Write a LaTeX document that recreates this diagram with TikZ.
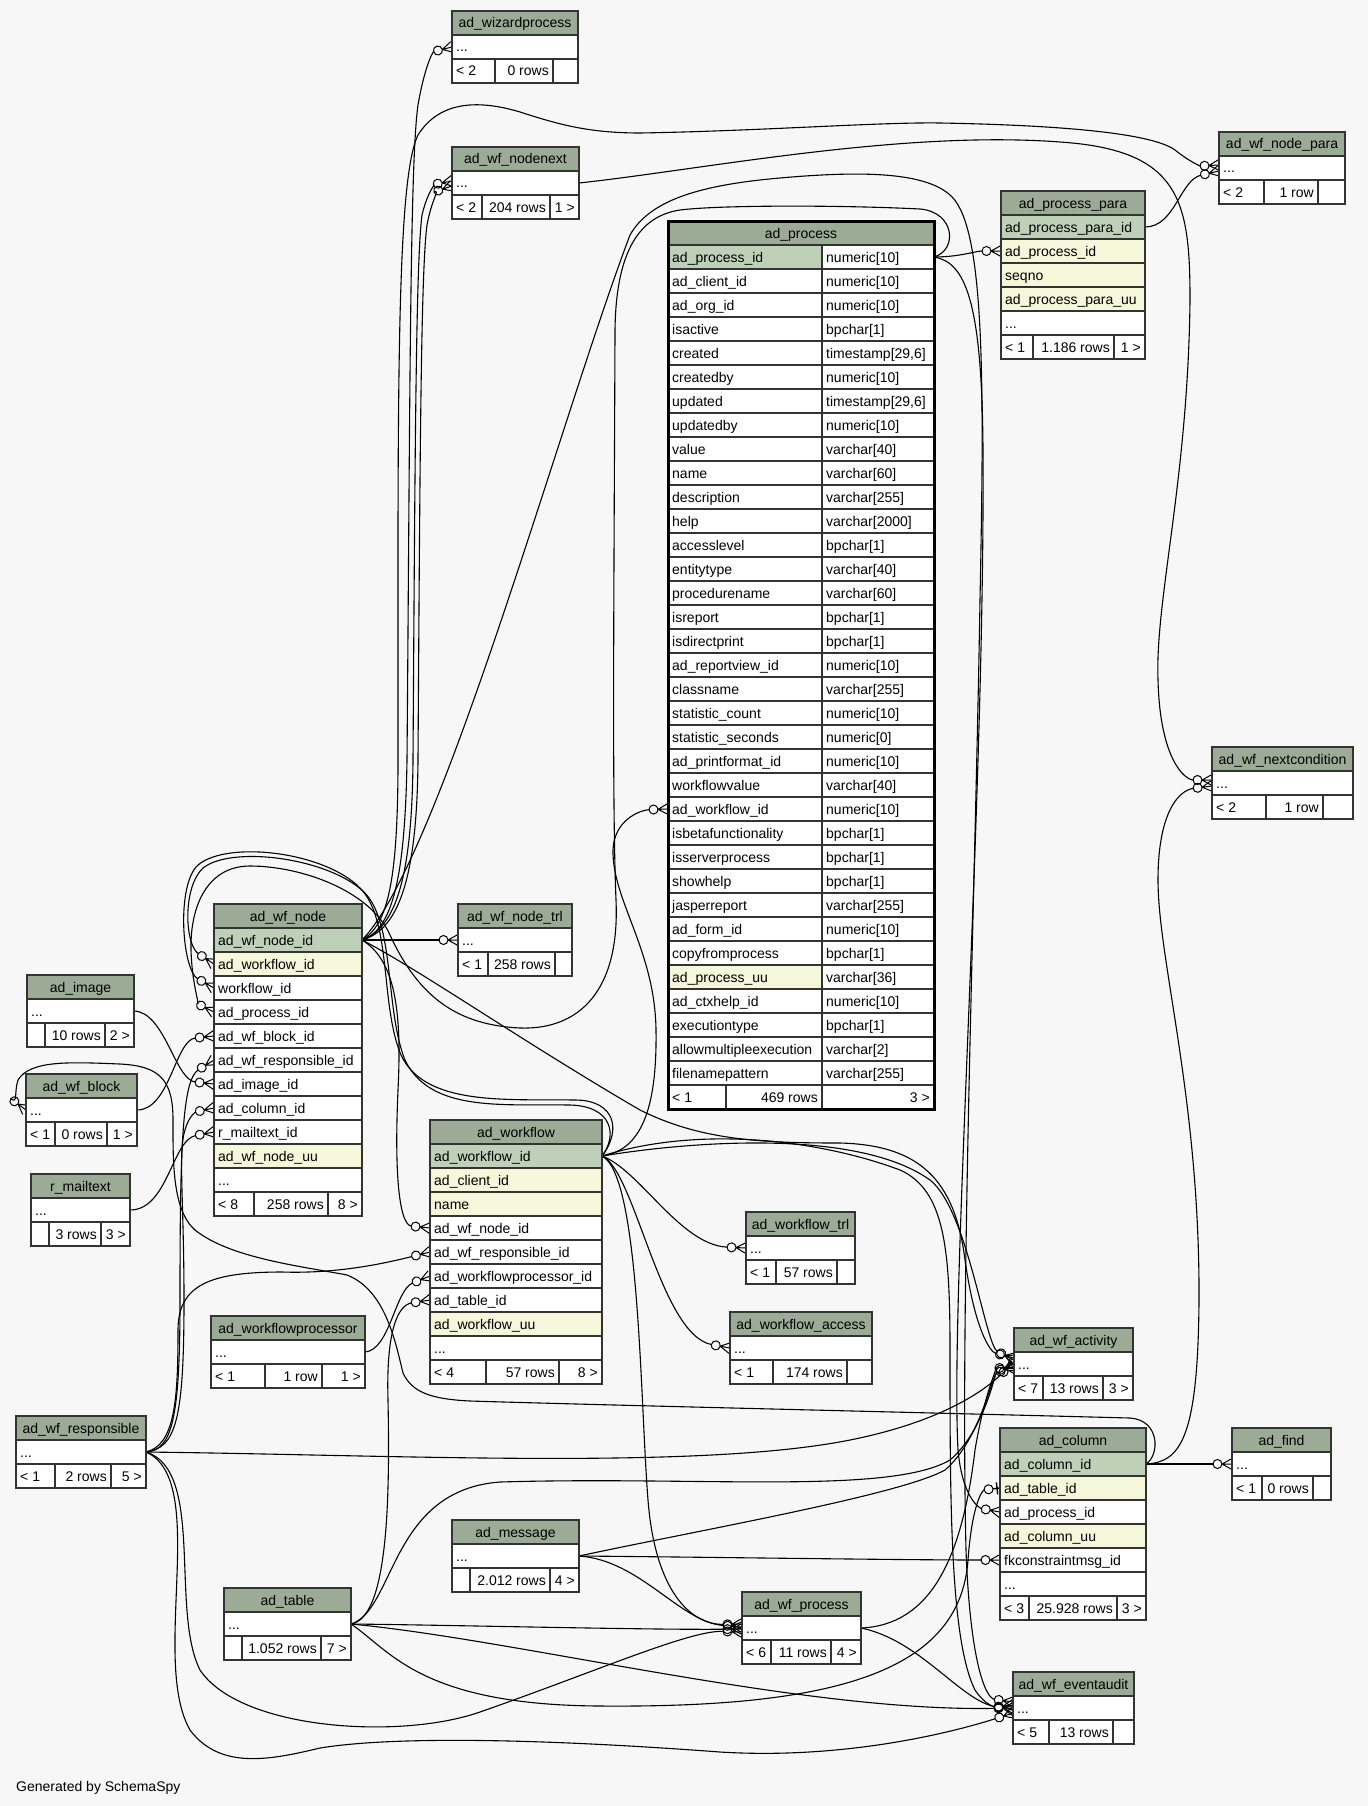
\documentclass[tikz,border=0pt]{standalone}
\usepackage{fontspec}
\setmainfont{Liberation Sans}
\definecolor{bg}{HTML}{F7F7F7}
\definecolor{hd}{HTML}{9BAB96}
\definecolor{pk}{HTML}{BED1B8}
\definecolor{ix}{HTML}{F4F7DA}
\definecolor{wh}{HTML}{FFFFFF}
\definecolor{bd}{HTML}{333333}
\newcommand\fsz{\fontsize{14pt}{16pt}\selectfont}
\pgfdeclarearrow{
  name = crowo,
  setup code = {
    \pgfarrowssettipend{0pt}
    \pgfarrowssetbackend{-19pt}
    \pgfarrowssetlineend{-18.5pt}
    \pgfarrowssetvisualbackend{-19pt}
    \pgfarrowshullpoint{0pt}{6pt}
    \pgfarrowshullpoint{0pt}{-6pt}
    \pgfarrowshullpoint{-19pt}{0pt}
  },
  drawing code = {
    \pgfsetdash{}{0pt}
    \pgfsetlinewidth{1pt}
    \pgfpathmoveto{\pgfpoint{-10pt}{0pt}}\pgfpathlineto{\pgfpoint{0pt}{5.5pt}}
    \pgfpathmoveto{\pgfpoint{-10pt}{0pt}}\pgfpathlineto{\pgfpoint{0pt}{-5.5pt}}
    \pgfpathmoveto{\pgfpoint{-10pt}{0pt}}\pgfpathlineto{\pgfpoint{0pt}{0pt}}
    \pgfusepathqstroke
    \pgfpathcircle{\pgfpoint{-14.5pt}{0pt}}{4.5pt}
    \pgfusepathqstroke
  },
}
\pgfdeclarearrow{
  name = baro,
  setup code = {
    \pgfarrowssettipend{0pt}
    \pgfarrowssetbackend{-16pt}
    \pgfarrowssetlineend{-15.5pt}
    \pgfarrowssetvisualbackend{-16pt}
    \pgfarrowshullpoint{0pt}{6pt}
    \pgfarrowshullpoint{0pt}{-6pt}
    \pgfarrowshullpoint{-16pt}{0pt}
  },
  drawing code = {
    \pgfsetdash{}{0pt}
    \pgfsetlinewidth{1.4pt}
    \pgfpathmoveto{\pgfpoint{-3pt}{6pt}}\pgfpathlineto{\pgfpoint{-3pt}{-6pt}}
    \pgfpathmoveto{\pgfpoint{-7pt}{0pt}}\pgfpathlineto{\pgfpoint{0pt}{0pt}}
    \pgfusepathqstroke
    \pgfsetlinewidth{1pt}
    \pgfpathcircle{\pgfpoint{-11.5pt}{0pt}}{4.5pt}
    \pgfusepathqstroke
  },
}
\pgfdeclarelayer{bgl}
\pgfsetlayers{bgl,main}
\tikzset{
 bx/.style={draw=bd, line width=1.2pt, anchor=north west, inner sep=0pt, outer sep=0pt, minimum height=24pt},
 tx/.style={font=\fsz, inner sep=0pt, text height=11pt, text depth=1pt},
 fk/.style={draw=black, line width=1.1pt, -{crowo}},
 fkone/.style={draw=black, line width=1.1pt, -{baro}},
}
\newcommand\hd[5]{\node[bx,fill=hd,minimum width=#4pt] (#1) at (#2,#3) {}; \node[tx] (#1t) at (#1.center) {#5};}
\newcommand\rl[6]{\node[bx,fill=#5,minimum width=#4pt] (#1) at (#2,#3) {}; \node[tx,anchor=west] (#1t) at ([xshift=4pt]#1.west) {#6};}
\newcommand\ft[9]{%
 \pgfmathsetmacro\wa{#4-#2}\pgfmathsetmacro\wb{#5-#4}\pgfmathsetmacro\wc{#6-#5}%
 \node[bx,fill=wh,minimum width=\wa pt] (#1a) at (#2,#3) {};
 \node[bx,fill=wh,minimum width=\wb pt] (#1b) at (#4,#3) {};
 \node[bx,fill=wh,minimum width=\wc pt] (#1c) at (#5,#3) {};
 \node[tx,anchor=west] (#1at) at ([xshift=4pt]#1a.west) {#7};
 \node[tx,anchor=east] (#1bt) at ([xshift=-4pt]#1b.east) {#8};
 \node[tx,anchor=east] (#1ct) at ([xshift=-4pt]#1c.east) {#9};}
\begin{document}
\begin{tikzpicture}[x=1pt,y=-1pt]
\useasboundingbox (0,0) rectangle (1368,1806);
\begin{pgfonlayer}{bgl}
\fill[bg] (0,0) rectangle (1368,1806);
\end{pgfonlayer}
% ---------------- tables ----------------
\hd{wizH}{452}{11}{126}{ad\_wizardprocess}
\rl{wizR}{452}{35}{126}{wh}{...}
\ft{wizF}{452}{59}{495}{553}{578}{< 2}{0 rows}{}
\hd{nnH}{452}{147}{127}{ad\_wf\_nodenext}
\rl{nnR}{452}{171}{127}{wh}{...}
\ft{nnF}{452}{195}{482}{550}{579}{< 2}{204 rows}{1 >}
\hd{npH}{1219}{132}{126}{ad\_wf\_node\_para}
\rl{npR}{1219}{156}{126}{wh}{...}
\ft{npF}{1219}{180}{1264}{1318}{1345}{< 2}{1 row}{}
\hd{ppH}{1001}{191}{144}{ad\_process\_para}
\rl{ppId}{1001}{215}{144}{pk}{ad\_process\_para\_id}
\rl{ppPid}{1001}{239}{144}{ix}{ad\_process\_id}
\rl{ppSeq}{1001}{263}{144}{ix}{seqno}
\rl{ppUu}{1001}{287}{144}{ix}{ad\_process\_para\_uu}
\rl{ppDot}{1001}{311}{144}{wh}{...}
\ft{ppF}{1001}{335}{1033}{1114}{1145}{< 1}{1.186 rows}{1 >}
\hd{ncH}{1212}{747}{141}{ad\_wf\_nextcondition}
\rl{ncR}{1212}{771}{141}{wh}{...}
\ft{ncF}{1212}{795}{1266}{1323}{1353}{< 2}{1 row}{}
% ad_process
\hd{ph}{668}{221}{266}{ad\_process}
\foreach \a/\b/\c [count=\i from 0] in {{ad\_process\_id}/{numeric[10]}/pk,{ad\_client\_id}/{numeric[10]}/wh,{ad\_org\_id}/{numeric[10]}/wh,{isactive}/{bpchar[1]}/wh,{created}/{timestamp[29,6]}/wh,{createdby}/{numeric[10]}/wh,{updated}/{timestamp[29,6]}/wh,{updatedby}/{numeric[10]}/wh,{value}/{varchar[40]}/wh,{name}/{varchar[60]}/wh,{description}/{varchar[255]}/wh,{help}/{varchar[2000]}/wh,{accesslevel}/{bpchar[1]}/wh,{entitytype}/{varchar[40]}/wh,{procedurename}/{varchar[60]}/wh,{isreport}/{bpchar[1]}/wh,{isdirectprint}/{bpchar[1]}/wh,{ad\_reportview\_id}/{numeric[10]}/wh,{classname}/{varchar[255]}/wh,{statistic\_count}/{numeric[10]}/wh,{statistic\_seconds}/{numeric[0]}/wh,{ad\_printformat\_id}/{numeric[10]}/wh,{workflowvalue}/{varchar[40]}/wh,{ad\_workflow\_id}/{numeric[10]}/wh,{isbetafunctionality}/{bpchar[1]}/wh,{isserverprocess}/{bpchar[1]}/wh,{showhelp}/{bpchar[1]}/wh,{jasperreport}/{varchar[255]}/wh,{ad\_form\_id}/{numeric[10]}/wh,{copyfromprocess}/{bpchar[1]}/wh,{ad\_process\_uu}/{varchar[36]}/ix,{ad\_ctxhelp\_id}/{numeric[10]}/wh,{executiontype}/{bpchar[1]}/wh,{allowmultipleexecution}/{varchar[2]}/wh,{filenamepattern}/{varchar[255]}/wh}{
 \pgfmathsetmacro\yy{245+24*\i}
 \node[bx,fill=\c,minimum width=154pt] (pa\i) at (668,\yy) {};
 \node[tx,anchor=west] (pat\i) at ([xshift=4pt]pa\i.west) {\a};
 \node[bx,fill=wh,minimum width=112pt] (pb\i) at (822,\yy) {};
 \node[tx,anchor=west] (pbt\i) at ([xshift=4pt]pb\i.west) {\b};
}
\ft{pF}{668}{1085}{726}{822}{934}{< 1}{469 rows}{3 >}
\draw[line width=3pt,black] (668,221) rectangle (934,1109);
\coordinate (pId) at (934,257);
\coordinate (pWf) at (668,809);
% ad_wf_node
\hd{nH}{214}{904}{148}{ad\_wf\_node}
\rl{nId}{214}{928}{148}{pk}{ad\_wf\_node\_id}
\rl{nWf}{214}{952}{148}{ix}{ad\_workflow\_id}
\rl{nWf2}{214}{976}{148}{wh}{workflow\_id}
\rl{nProc}{214}{1000}{148}{wh}{ad\_process\_id}
\rl{nBlock}{214}{1024}{148}{wh}{ad\_wf\_block\_id}
\rl{nResp}{214}{1048}{148}{wh}{ad\_wf\_responsible\_id}
\rl{nImg}{214}{1072}{148}{wh}{ad\_image\_id}
\rl{nCol}{214}{1096}{148}{wh}{ad\_column\_id}
\rl{nMail}{214}{1120}{148}{wh}{r\_mailtext\_id}
\rl{nUu}{214}{1144}{148}{ix}{ad\_wf\_node\_uu}
\rl{nDot}{214}{1168}{148}{wh}{...}
\ft{nF}{214}{1192}{254}{328}{362}{< 8}{258 rows}{8 >}
\hd{trH}{458}{904}{114}{ad\_wf\_node\_trl}
\rl{trlR}{458}{928}{114}{wh}{...}
\ft{trF}{458}{952}{488}{555}{572}{< 1}{258 rows}{}
\hd{imH}{27}{975}{107}{ad\_image}
\rl{imgR}{27}{999}{107}{wh}{...}
\ft{imF}{27}{1023}{45}{105}{134}{}{10 rows}{2 >}
\hd{blH}{26}{1074}{111}{ad\_wf\_block}
\rl{blkR}{26}{1098}{111}{wh}{...}
\ft{blF}{26}{1122}{55}{107}{137}{< 1}{0 rows}{1 >}
\hd{mtH}{31}{1174}{99}{r\_mailtext}
\rl{mailR}{31}{1198}{99}{wh}{...}
\ft{mtF}{31}{1222}{49}{101}{130}{}{3 rows}{3 >}
% ad_workflow
\hd{wH}{430}{1120}{172}{ad\_workflow}
\rl{wId}{430}{1144}{172}{pk}{ad\_workflow\_id}
\rl{wCl}{430}{1168}{172}{ix}{ad\_client\_id}
\rl{wName}{430}{1192}{172}{ix}{name}
\rl{wNode}{430}{1216}{172}{wh}{ad\_wf\_node\_id}
\rl{wResp}{430}{1240}{172}{wh}{ad\_wf\_responsible\_id}
\rl{wProc}{430}{1264}{172}{wh}{ad\_workflowprocessor\_id}
\rl{wTab}{430}{1288}{172}{wh}{ad\_table\_id}
\rl{wUu}{430}{1312}{172}{ix}{ad\_workflow\_uu}
\rl{wDot}{430}{1336}{172}{wh}{...}
\ft{wF}{430}{1360}{486}{559}{602}{< 4}{57 rows}{8 >}
\hd{wprH}{211}{1316}{154}{ad\_workflowprocessor}
\rl{wprR}{211}{1340}{154}{wh}{...}
\ft{wprF}{211}{1364}{265}{322}{365}{< 1}{1 row}{1 >}
\hd{rsH}{16}{1416}{130}{ad\_wf\_responsible}
\rl{respR}{16}{1440}{130}{wh}{...}
\ft{rsF}{16}{1464}{55}{111}{146}{< 1}{2 rows}{5 >}
\hd{tbH}{224}{1588}{127}{ad\_table}
\rl{tabR}{224}{1612}{127}{wh}{...}
\ft{tbF}{224}{1636}{242}{321}{351}{}{1.052 rows}{7 >}
\hd{msH}{452}{1520}{127}{ad\_message}
\rl{msgR}{452}{1544}{127}{wh}{...}
\ft{msF}{452}{1568}{470}{550}{579}{}{2.012 rows}{4 >}
\hd{wtH}{746}{1212}{109}{ad\_workflow\_trl}
\rl{wtR}{746}{1236}{109}{wh}{...}
\ft{wtF}{746}{1260}{776}{837}{855}{< 1}{57 rows}{}
\hd{waH}{730}{1312}{142}{ad\_workflow\_access}
\rl{waR}{730}{1336}{142}{wh}{...}
\ft{waF}{730}{1360}{773}{847}{872}{< 1}{174 rows}{}
\hd{acH}{1014}{1328}{119}{ad\_wf\_activity}
\rl{actR}{1014}{1352}{119}{wh}{...}
\ft{acF}{1014}{1376}{1043}{1103}{1133}{< 7}{13 rows}{3 >}
\hd{cH}{1000}{1428}{146}{ad\_column}
\rl{colId}{1000}{1452}{146}{pk}{ad\_column\_id}
\rl{cTab}{1000}{1476}{146}{ix}{ad\_table\_id}
\rl{cProc}{1000}{1500}{146}{wh}{ad\_process\_id}
\rl{cUu}{1000}{1524}{146}{ix}{ad\_column\_uu}
\rl{cMsg}{1000}{1548}{146}{wh}{fkconstraintmsg\_id}
\rl{cDot}{1000}{1572}{146}{wh}{...}
\ft{cF}{1000}{1596}{1029}{1117}{1146}{< 3}{25.928 rows}{3 >}
\hd{fH}{1232}{1428}{99}{ad\_find}
\rl{findR}{1232}{1452}{99}{wh}{...}
\ft{fF}{1232}{1476}{1262}{1313}{1331}{< 1}{0 rows}{}
\hd{wpH}{742}{1592}{119}{ad\_wf\_process}
\rl{wpR}{742}{1616}{119}{wh}{...}
\ft{wpF}{742}{1640}{771}{831}{861}{< 6}{11 rows}{4 >}
\hd{evH}{1013}{1672}{121}{ad\_wf\_eventaudit}
\rl{evR}{1013}{1696}{121}{wh}{...}
\ft{evF}{1013}{1720}{1049}{1113}{1134}{< 5}{13 rows}{}
\node[tx,anchor=west] (gen) at (16,1786) {Generated by SchemaSpy};
% ---------------- connectors ----------------
\begin{pgfonlayer}{bgl}
% from ad_wf_node
\draw[fk] (nId.east) .. controls (392,930) and (405,880) .. (407,760) .. controls (410,400) and (410,160) .. (418,105) .. controls (424,70) and (432,52) .. (wizR.west);
\draw[fk] (nId.east) .. controls (395,928) and (412,880) .. (413,760) .. controls (415,450) and (416,260) .. (422,215) .. controls (428,190) and (436,184) .. ([yshift=2pt]nnR.west);
\draw[fk] (nId.east) .. controls (398,930) and (417,880) .. (418,760) .. controls (420,450) and (421,270) .. (427,225) .. controls (432,198) and (440,190) .. ([yshift=-3pt]nnR.west);
\draw[fk] (nId.east) -- (trlR.west);
\draw[fk] (nId.east) .. controls (388,925) and (398,880) .. (398,760) .. controls (398,400) and (396,180) .. (418,135) .. controls (440,100) and (480,100) .. (520,112) .. controls (560,125) and (590,133) .. (640,133) .. controls (760,131) and (880,122) .. (940,123) .. controls (1050,125) and (1150,132) .. (1175,150) .. controls (1190,162) and (1200,166) .. ([yshift=3pt]npR.west);
\draw[fk] (nId.east) .. controls (395,960) and (402,1010) .. (398,1090) .. controls (394,1180) and (400,1225) .. (wNode.west);
\draw[fk] (nId.east) .. controls (420,970) and (520,1040) .. (640,1110) .. controls (700,1140) and (760,1143) .. (840,1143) .. controls (920,1145) and (955,1180) .. (965,1260) .. controls (975,1330) and (990,1352) .. ([yshift=6pt]actR.west);
\draw[fk] (nId.east) .. controls (440,860) and (560,420) .. (630,235) .. controls (650,200) and (700,185) .. (780,178) .. controls (870,170) and (940,172) .. (958,205) .. controls (985,250) and (984,400) .. (980,600) .. controls (975,900) and (960,1300) .. (966,1550) .. controls (970,1660) and (985,1698) .. ([yshift=6pt]evR.west);
% from ad_workflow
\draw[fk] (wId.east) .. controls (618,1135) and (612,1106) .. (570,1105) .. controls (500,1104) and (430,1112) .. (405,1060) .. controls (385,1010) and (395,925) .. (365,893) .. controls (330,858) and (232,845) .. (203,868) .. controls (182,888) and (185,945) .. (nWf.west);
\draw[fk] (wId.east) .. controls (622,1130) and (615,1100) .. (575,1100) .. controls (505,1099) and (425,1106) .. (401,1055) .. controls (380,1005) and (392,920) .. (360,888) .. controls (325,852) and (228,840) .. (198,865) .. controls (176,885) and (182,970) .. (nWf2.west);
\draw[fk] (wId.east) .. controls (645,1150) and (657,1100) .. (656,1030) .. controls (655,950) and (612,900) .. (613,850) .. controls (614,820) and (640,810) .. (pWf);
\draw[fk] (wId.east) .. controls (640,1170) and (680,1245) .. (wtR.west);
\draw[fk] (wId.east) .. controls (635,1170) and (660,1335) .. (waR.west);
\draw[fk] (wId.east) .. controls (700,1140) and (860,1130) .. (930,1180) .. controls (968,1210) and (985,1345) .. ([yshift=4pt]actR.west);
\draw[fk] (wId.east) .. controls (700,1125) and (820,1140) .. (900,1170) .. controls (945,1190) and (950,1250) .. (950,1350) .. controls (950,1500) and (950,1640) .. (975,1690) .. controls (985,1705) and (995,1707) .. ([yshift=3pt]evR.west);
\draw[fk] (wId.east) .. controls (640,1175) and (640,1400) .. (648,1500) .. controls (655,1590) and (690,1625) .. ([yshift=4pt]wpR.west);
% from ad_process
\draw[fk] (pId) .. controls (960,257) and (975,251) .. (ppPid.west);
\draw[fk] (pId) .. controls (958,250) and (955,212) .. (920,209) .. controls (840,205) and (720,205) .. (680,210) .. controls (640,216) and (616,250) .. (615,330) .. controls (614,600) and (612,800) .. (616,900) .. controls (620,990) and (580,1030) .. (520,1028) .. controls (460,1025) and (420,1000) .. (390,935) .. controls (370,890) and (300,866) .. (250,866) .. controls (208,866) and (190,905) .. (191,950) .. controls (192,985) and (200,1005) .. (nProc.west);
\draw[fk] (pId) .. controls (965,262) and (982,300) .. (983,450) .. controls (985,800) and (950,1300) .. (958,1450) .. controls (962,1495) and (978,1508) .. (cProc.west);
% misc
\draw[fk] (ppId.east) .. controls (1175,227) and (1180,180) .. ([yshift=-3pt]npR.west);
\draw[fk] (nnR.east) .. controls (700,170) and (900,130) .. (1060,142) .. controls (1180,150) and (1190,200) .. (1190,300) .. controls (1188,480) and (1155,600) .. (1158,680) .. controls (1160,760) and (1185,780) .. ([yshift=3pt]ncR.west);
\draw[fk] (colId.east) -- (findR.west);
\draw[fk] (colId.east) .. controls (1180,1462) and (1198,1440) .. (1199,1300) .. controls (1200,1100) and (1158,960) .. (1158,880) .. controls (1158,810) and (1180,790) .. ([yshift=-3pt]ncR.west);
\draw[fk] (colId.east) .. controls (1160,1455) and (1160,1420) .. (1130,1418) .. controls (900,1412) and (600,1405) .. (470,1401) .. controls (430,1399) and (412,1392) .. (403,1373) .. controls (395,1340) and (385,1290) .. (347,1275) .. controls (300,1266) and (230,1258) .. (195,1230) .. controls (172,1210) and (173,1160) .. (173,1120) .. controls (173,1080) and (160,1066) .. (120,1064) .. controls (70,1062) and (30,1060) .. (18,1080) .. controls (14,1092) and (18,1104) .. (blkR.west);
\draw[fk] (msgR.east) .. controls (700,1557) and (900,1560) .. (cMsg.west);
\draw[fk] (msgR.east) .. controls (700,1530) and (900,1495) .. (945,1470) .. controls (980,1440) and (992,1375) .. ([yshift=-2pt]actR.west);
\draw[fk] (msgR.east) .. controls (640,1560) and (680,1622) .. ([yshift=1pt]wpR.west);
\draw[fk] (tabR.east) .. controls (388,1618) and (390,1500) .. (388,1400) .. controls (386,1330) and (398,1305) .. (wTab.west);
\draw[fk] (tabR.east) .. controls (395,1610) and (390,1490) .. (500,1482) .. controls (700,1476) and (890,1495) .. (950,1460) .. controls (985,1430) and (995,1372) .. ([yshift=0pt]actR.west);
\draw[fk] (tabR.east) .. controls (450,1625) and (650,1630) .. ([yshift=-1pt]wpR.west);
\draw[fk] (tabR.east) .. controls (520,1640) and (800,1712) .. ([yshift=0pt]evR.west);
\draw[fkone] (tabR.east) .. controls (390,1650) and (420,1705) .. (600,1706) .. controls (840,1708) and (960,1670) .. (968,1560) .. controls (972,1505) and (982,1490) .. (cTab.west);
\draw[fk] (wpR.east) .. controls (930,1625) and (962,1560) .. (975,1450) .. controls (985,1390) and (998,1368) .. ([yshift=-4pt]actR.west);
\draw[fk] (wpR.east) .. controls (920,1640) and (960,1700) .. ([yshift=-2pt]evR.west);
\draw[fk] (respR.east) .. controls (172,1450) and (180,1420) .. (180,1300) .. controls (180,1150) and (182,1080) .. (nResp.west);
\draw[fk] (respR.east) .. controls (176,1448) and (184,1420) .. (184,1300) .. controls (184,1200) and (178,1150) .. (185,1130) .. controls (188,1118) and (195,1112) .. (nCol.west);
\draw[fk] (respR.east) .. controls (175,1445) and (178,1400) .. (178,1330) .. controls (178,1285) and (210,1272) .. (282,1272) .. controls (340,1274) and (390,1262) .. (wResp.west);
\draw[fk] (respR.east) .. controls (400,1455) and (700,1470) .. (850,1440) .. controls (950,1420) and (990,1385) .. ([yshift=2pt]actR.west);
\draw[fk] (respR.east) .. controls (205,1470) and (170,1610) .. (200,1670) .. controls (240,1730) and (400,1740) .. (480,1712) .. controls (600,1670) and (690,1630) .. ([yshift=-4pt]wpR.west);
\draw[fk] (respR.east) .. controls (210,1480) and (150,1660) .. (190,1730) .. controls (220,1770) and (270,1760) .. (320,1748) .. controls (400,1735) and (560,1740) .. (720,1752) .. controls (850,1760) and (960,1730) .. ([yshift=-5pt]evR.west);
\draw[fk] (imgR.east) .. controls (165,1012) and (175,1080) .. (nImg.west);
\draw[fk] (blkR.east) .. controls (170,1110) and (175,1040) .. (nBlock.west);
\draw[fk] (mailR.east) .. controls (168,1210) and (172,1140) .. (nMail.west);
\draw[fk] (wprR.east) .. controls (390,1350) and (395,1290) .. (wProc.west);
\end{pgfonlayer}
\end{tikzpicture}
\end{document}
